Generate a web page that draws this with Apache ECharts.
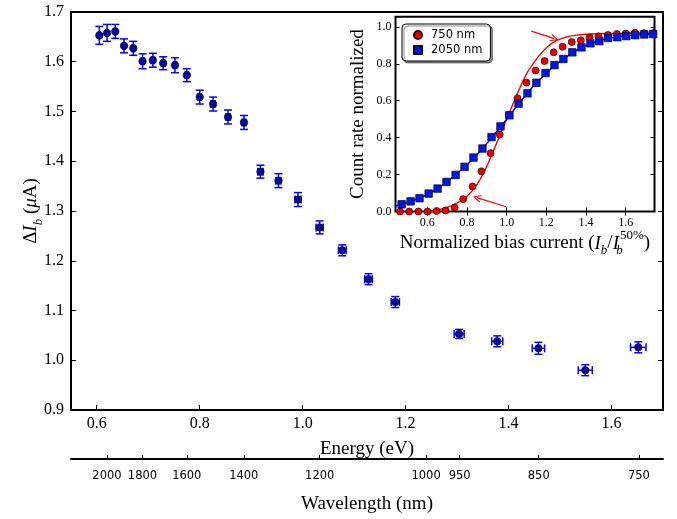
<!DOCTYPE html>
<html>
<head>
<meta charset="utf-8">
<script src="https://cdn.jsdelivr.net/npm/echarts@6/dist/echarts.min.js"></script>
<style>
html,body{margin:0;padding:0;background:#fff;}
#chart{width:677px;height:519px;}
</style>
</head>
<body>
<div id="chart"></div>
<script>
// ---------- Main plot data ----------
const energy = [0.605, 0.620, 0.636, 0.653, 0.671, 0.689, 0.709, 0.729, 0.752, 0.775, 0.800, 0.826, 0.855, 0.886, 0.918, 0.953, 0.991, 1.033, 1.077, 1.128, 1.180, 1.304, 1.378, 1.458, 1.549, 1.652];
const deltaIb = [1.653, 1.658, 1.661, 1.632, 1.627, 1.601, 1.603, 1.597, 1.593, 1.573, 1.529, 1.515, 1.489, 1.478, 1.379, 1.361, 1.323, 1.267, 1.221, 1.163, 1.117, 1.053, 1.038, 1.024, 0.980, 1.026];
const energyErr = [0.002, 0.002, 0.002, 0.002, 0.002, 0.003, 0.003, 0.003, 0.003, 0.003, 0.003, 0.004, 0.004, 0.004, 0.005, 0.005, 0.006, 0.007, 0.0075, 0.0075, 0.008, 0.0097, 0.0107, 0.012, 0.0136, 0.015];
const deltaIbErr = [0.018, 0.017, 0.014, 0.014, 0.014, 0.015, 0.014, 0.013, 0.015, 0.013, 0.014, 0.014, 0.014, 0.014, 0.013, 0.014, 0.014, 0.013, 0.011, 0.011, 0.011, 0.009, 0.011, 0.012, 0.011, 0.011];
const energyTicks = [0.6, 0.8, 1.0, 1.2, 1.4, 1.6];
const wavelengthTicks = [2000, 1800, 1600, 1400, 1200, 1000, 950, 850, 750];

// ---------- Inset data ----------
const bias750 = [0.463, 0.509, 0.555, 0.601, 0.647, 0.692, 0.738, 0.781, 0.828, 0.873, 0.919, 0.965, 1.010, 1.055, 1.100, 1.146, 1.191, 1.237, 1.282, 1.328, 1.374, 1.418, 1.463, 1.510, 1.555, 1.600, 1.646, 1.692, 1.738];
const count750 = [0.000, 0.000, 0.000, 0.000, 0.003, 0.006, 0.022, 0.067, 0.136, 0.218, 0.316, 0.417, 0.522, 0.614, 0.698, 0.764, 0.815, 0.862, 0.892, 0.918, 0.927, 0.942, 0.949, 0.956, 0.961, 0.964, 0.968, 0.966, 0.966];
const bias2050 = [0.471, 0.516, 0.561, 0.607, 0.652, 0.697, 0.743, 0.788, 0.833, 0.878, 0.924, 0.969, 1.014, 1.060, 1.105, 1.150, 1.196, 1.241, 1.286, 1.331, 1.377, 1.422, 1.467, 1.512, 1.558, 1.603, 1.648, 1.693, 1.738];
const count2050 = [0.039, 0.055, 0.072, 0.097, 0.124, 0.160, 0.198, 0.242, 0.292, 0.341, 0.403, 0.461, 0.521, 0.584, 0.640, 0.697, 0.750, 0.793, 0.826, 0.862, 0.889, 0.911, 0.923, 0.940, 0.944, 0.950, 0.955, 0.959, 0.961];
const fit750X = [0.60, 0.65, 0.70, 0.75, 0.80, 0.85, 0.90, 0.95, 1.00, 1.05, 1.10, 1.15, 1.20, 1.25, 1.30, 1.35, 1.40, 1.50, 1.60, 1.745];
const fit750Y = [0.000, 0.008, 0.022, 0.046, 0.082, 0.145, 0.245, 0.372, 0.500, 0.628, 0.745, 0.825, 0.887, 0.925, 0.945, 0.955, 0.960, 0.964, 0.965, 0.965];
const fit2050X = [0.44, 0.47, 0.52, 0.56, 0.61, 0.65, 0.70, 0.74, 0.79, 0.835, 0.88, 0.925, 0.97, 1.015, 1.06, 1.105, 1.15, 1.20, 1.245, 1.29, 1.335, 1.38, 1.425, 1.47, 1.515, 1.56, 1.605, 1.65, 1.70, 1.745];
const fit2050Y = [0.030, 0.040, 0.055, 0.072, 0.097, 0.124, 0.160, 0.198, 0.242, 0.292, 0.343, 0.400, 0.460, 0.520, 0.583, 0.642, 0.697, 0.749, 0.793, 0.828, 0.862, 0.889, 0.910, 0.925, 0.938, 0.946, 0.951, 0.955, 0.958, 0.960];
const insetXTicks = [0.6, 0.8, 1.0, 1.2, 1.4, 1.6];
const insetYTicks = [0.0, 0.2, 0.4, 0.6, 0.8, 1.0];
const arrowUpper = [[1.124, 0.977], [1.241, 0.936]];
const arrowLower = [[0.998, 0.026], [0.850, 0.075]];

const HC = 1239.84; // eV*nm
const SERIF = 'Liberation Serif';
const SANS = 'DejaVu Sans';

const mainData = energy.map((e, i) => [e, deltaIb[i], energyErr[i], deltaIbErr[i]]);

function errRender(params, api) {
  const x = api.value(0), y = api.value(1), ex = api.value(2), ey = api.value(3);
  const t = api.coord([x, y + ey]), b = api.coord([x, y - ey]);
  const l = api.coord([x - ex, y]), r = api.coord([x + ex, y]);
  const cap = 4;
  const st = { stroke: '#0000ff', lineWidth: 1.5 };
  const ln = (x1, y1, x2, y2) => ({ type: 'line', shape: { x1, y1, x2, y2 }, style: st });
  return {
    type: 'group',
    children: [
      ln(t[0], t[1], b[0], b[1]),
      ln(t[0] - cap, t[1], t[0] + cap, t[1]),
      ln(b[0] - cap, b[1], b[0] + cap, b[1]),
      ln(l[0], l[1], r[0], r[1]),
      ln(l[0], l[1] - cap, l[0], l[1] + cap),
      ln(r[0], r[1] - cap, r[0], r[1] + cap)
    ]
  };
}

const nameRich = {
  n: { fontFamily: SERIF, fontSize: 19, color: '#000', lineHeight: 28 },
  i: { fontFamily: SERIF, fontSize: 19, fontStyle: 'italic', color: '#000', lineHeight: 28 },
  s: { fontFamily: SERIF, fontSize: 13, fontStyle: 'italic', color: '#000', verticalAlign: 'bottom', lineHeight: 14 },
  s0: { fontFamily: SERIF, fontSize: 13, fontStyle: 'italic', color: '#000', verticalAlign: 'bottom', lineHeight: 14, width: 1 },
  p: { fontFamily: SERIF, fontSize: 13, color: '#000', verticalAlign: 'top', lineHeight: 14 }
};

const chart = echarts.init(document.getElementById('chart'), null, { renderer: 'canvas' });
const chevron = 'path://M0,10 L5,0 L10,10 L8.6,10 L5,2.8 L1.4,10 Z';

const option = {
  animation: false,
  backgroundColor: '#fff',
  grid: [
    { left: 71, top: 12, width: 592, height: 400, show: true, borderColor: '#000', borderWidth: 2, backgroundColor: 'transparent', containLabel: false },
    { left: 395.5, top: 16.7, width: 259, height: 194.8, show: true, borderColor: '#000', borderWidth: 2, backgroundColor: '#fff', containLabel: false }
  ],
  legend: {
    left: 402, top: 24, orient: 'vertical',
    data: ['750 nm', '2050 nm'],
    itemWidth: 8, itemHeight: 8, itemGap: 3,
    padding: [5, 8, 5, 11],
    backgroundColor: '#fff', borderColor: '#000', borderWidth: 1, borderRadius: 4,
    shadowColor: 'rgba(0,0,0,0.45)', shadowBlur: 0, shadowOffsetX: 2, shadowOffsetY: 2,
    textStyle: { fontFamily: SANS, fontSize: 11.5, color: '#000', padding: [0, 0, 0, 4] },
    selectedMode: false
  },
  xAxis: [
    {
      gridIndex: 0, type: 'value', min: 0.55, max: 1.70,
      axisLine: { show: false },
      axisTick: { show: true, inside: true, length: 5, lineStyle: { color: '#000', width: 1 }, customValues: energyTicks },
      axisLabel: { customValues: energyTicks, formatter: v => v.toFixed(1), fontFamily: SERIF, fontSize: 16, color: '#000', margin: 6 },
      splitLine: { show: false },
      name: 'Energy (eV)', nameLocation: 'middle', nameGap: 30, nameMoveOverlap: false,
      nameTextStyle: { fontFamily: SERIF, fontSize: 19, color: '#000' }
    },
    {
      gridIndex: 0, type: 'value', position: 'bottom', offset: 49, min: 0.55, max: 1.70,
      axisLine: { show: true, lineStyle: { color: '#000', width: 2 } },
      axisTick: { show: true, inside: true, length: 4, lineStyle: { color: '#000', width: 1 }, customValues: wavelengthTicks.map(l => HC / l) },
      axisLabel: { customValues: wavelengthTicks.map(l => HC / l), formatter: v => String(Math.round(HC / v)), fontFamily: SANS, fontSize: 11.5, color: '#000', margin: 11 },
      splitLine: { show: false },
      name: 'Wavelength (nm)', nameLocation: 'middle', nameGap: 36, nameMoveOverlap: false,
      nameTextStyle: { fontFamily: SERIF, fontSize: 19, color: '#000' }
    },
    {
      gridIndex: 1, type: 'value', min: 0.44, max: 1.745,
      axisLine: { show: false },
      axisTick: { show: true, inside: true, length: 4, lineStyle: { color: '#000', width: 1 }, customValues: insetXTicks },
      axisLabel: { customValues: insetXTicks, formatter: v => v.toFixed(1), fontFamily: SERIF, fontSize: 12, color: '#000', margin: 5 },
      splitLine: { show: false },
      name: '{n|Normalized bias current (}{i|I}{s|b}{n|/}{i|I}{s0|b}{p|50%}{n|)}',
      nameLocation: 'middle', nameGap: 18, nameMoveOverlap: false,
      nameTextStyle: { rich: nameRich }
    },
    {
      gridIndex: 1, type: 'value', position: 'top', min: 0.44, max: 1.745,
      axisLine: { show: false },
      axisTick: { show: true, inside: true, length: 4, lineStyle: { color: '#000', width: 1 }, customValues: insetXTicks },
      axisLabel: { show: false, customValues: insetXTicks },
      splitLine: { show: false }
    }
  ],
  yAxis: [
    {
      gridIndex: 0, type: 'value', min: 0.9, max: 1.7, interval: 0.1,
      axisLine: { show: false },
      axisTick: { show: true, inside: true, length: 5, lineStyle: { color: '#000', width: 1 } },
      axisLabel: { formatter: v => v.toFixed(1), fontFamily: SERIF, fontSize: 16, color: '#000', margin: 7 },
      splitLine: { show: false },
      name: '{n|Δ}{i|I}{s|b}{n| (}{i|μ}{n|A)}',
      nameLocation: 'middle', nameGap: 26, nameMoveOverlap: false,
      nameTextStyle: { rich: nameRich }
    },
    {
      gridIndex: 0, type: 'value', position: 'right', min: 0.9, max: 1.7, interval: 0.1,
      axisLine: { show: false },
      axisTick: { show: true, inside: true, length: 5, lineStyle: { color: '#000', width: 1 } },
      axisLabel: { show: false },
      splitLine: { show: false }
    },
    {
      gridIndex: 1, type: 'value', min: 0, max: 1.055,
      axisLine: { show: false },
      axisTick: { show: true, inside: true, length: 4, lineStyle: { color: '#000', width: 1 }, customValues: insetYTicks },
      axisLabel: { customValues: insetYTicks, formatter: v => v.toFixed(1), fontFamily: SERIF, fontSize: 12, color: '#000', margin: 4 },
      splitLine: { show: false },
      name: 'Count rate normalized', nameLocation: 'middle', nameGap: 28, nameMoveOverlap: false,
      nameTextStyle: { fontFamily: SERIF, fontSize: 19, color: '#000' }
    },
    {
      gridIndex: 1, type: 'value', position: 'right', min: 0, max: 1.055,
      axisLine: { show: false },
      axisTick: { show: true, inside: true, length: 4, lineStyle: { color: '#000', width: 1 }, customValues: insetYTicks },
      axisLabel: { show: false, customValues: insetYTicks },
      splitLine: { show: false }
    }
  ],
  series: [
    {
      name: 'errors', type: 'custom', xAxisIndex: 0, yAxisIndex: 0,
      renderItem: errRender, data: mainData, encode: { x: 0, y: 1 }, z: 2
    },
    {
      name: 'ΔIb', type: 'scatter', xAxisIndex: 0, yAxisIndex: 0,
      data: energy.map((e, i) => [e, deltaIb[i]]),
      symbol: 'circle', symbolSize: 7.5,
      itemStyle: { color: '#0a0a9a', borderColor: '#000033', borderWidth: 0.6, opacity: 1 }, z: 3
    },
    {
      name: 'fit 750', type: 'line', xAxisIndex: 2, yAxisIndex: 2,
      data: fit750X.map((x, i) => [x, fit750Y[i]]),
      smooth: 0.4, showSymbol: false, symbol: 'none',
      lineStyle: { color: '#ff0000', width: 1.4 }, z: 3
    },
    {
      name: 'fit 2050', type: 'line', xAxisIndex: 2, yAxisIndex: 2,
      data: fit2050X.map((x, i) => [x, fit2050Y[i]]),
      smooth: 0.3, showSymbol: false, symbol: 'none',
      lineStyle: { color: '#0000ff', width: 1.4 }, z: 3
    },
    {
      name: '750 nm', type: 'scatter', xAxisIndex: 2, yAxisIndex: 2,
      data: bias750.map((x, i) => [x, count750[i]]),
      symbol: 'circle', symbolSize: 7,
      itemStyle: { color: '#e80000', borderColor: '#3a0000', borderWidth: 0.7, opacity: 1 }, z: 4
    },
    {
      name: '2050 nm', type: 'scatter', xAxisIndex: 2, yAxisIndex: 2,
      data: bias2050.map((x, i) => [x, count2050[i]]),
      symbol: 'rect', symbolSize: 7.5,
      itemStyle: { color: '#0018e0', borderColor: '#000030', borderWidth: 0.7, opacity: 1 }, z: 4
    },
    {
      name: 'arrows', type: 'lines', coordinateSystem: 'cartesian2d', xAxisIndex: 2, yAxisIndex: 2,
      data: [{ coords: arrowUpper }, { coords: arrowLower }],
      symbol: ['none', chevron], symbolSize: 8,
      lineStyle: { color: '#ff0000', width: 1.2, opacity: 1 },
      itemStyle: { color: '#ff0000' }, z: 5
    }
  ]
};
chart.setOption(option);
</script>
</body>
</html>
